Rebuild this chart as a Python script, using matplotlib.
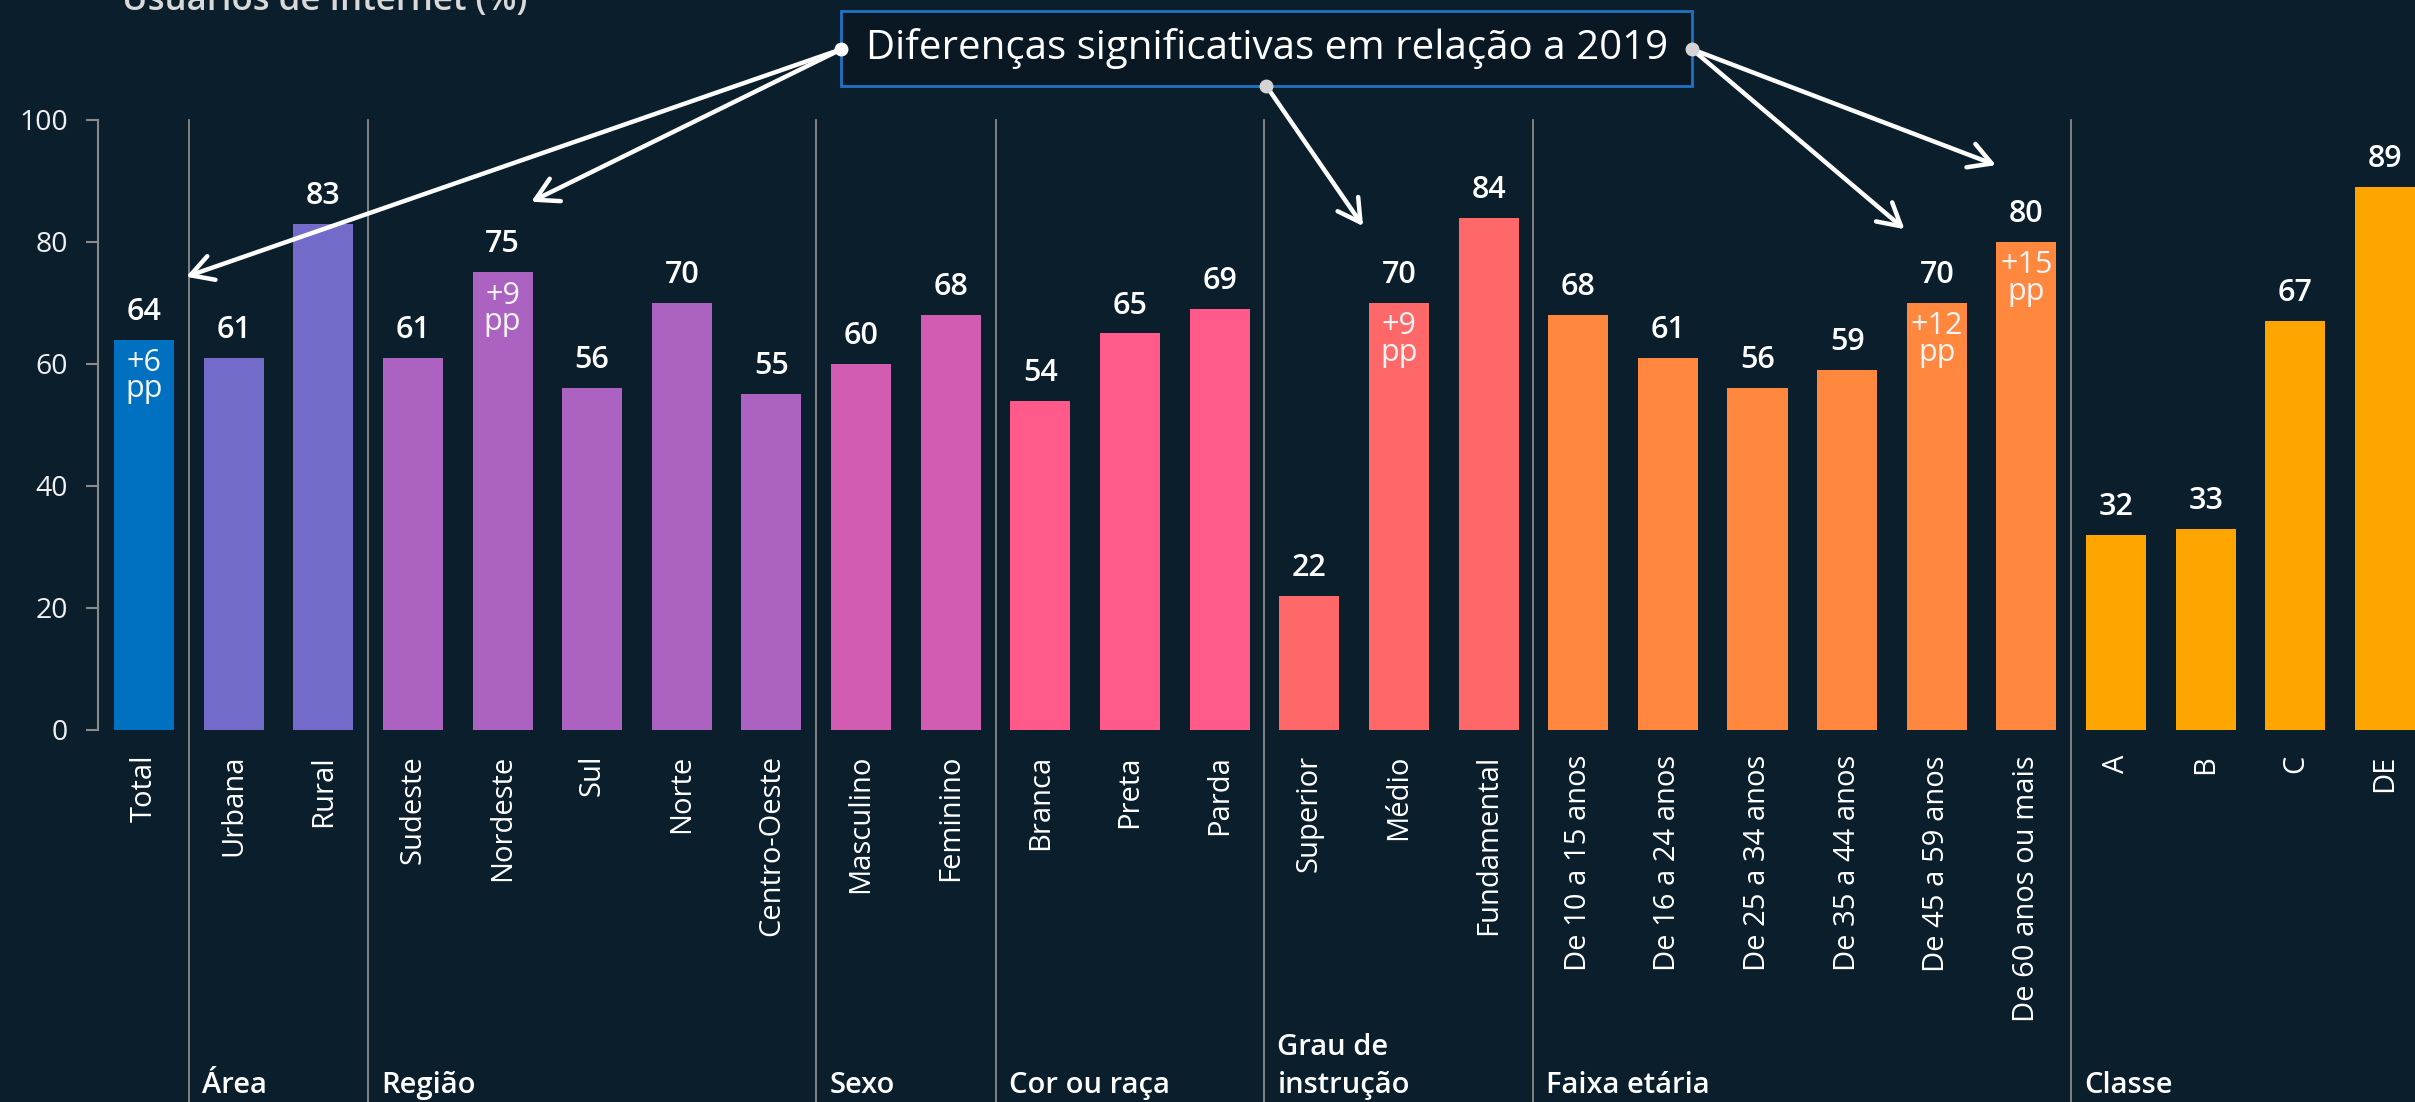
import matplotlib.pyplot as plt
import numpy as np
from matplotlib.patches import Rectangle
import matplotlib.transforms as mtransforms

plt.rcParams['font.family'] = ['Open Sans', 'DejaVu Sans']

# dados
categorias = ["Total", "Urbana", "Rural", "Sudeste", "Nordeste", "Sul", "Norte", "Centro-Oeste",
              "Masculino", "Feminino", "Branca", "Preta", "Parda",
              "Superior", "Médio", "Fundamental",
              "De 10 a 15 anos", "De 16 a 24 anos", "De 25 a 34 anos", "De 35 a 44 anos",
              "De 45 a 59 anos", "De 60 anos ou mais", "A", "B", "C", "DE"]
valores = [64, 61, 83, 61, 75, 56, 70, 55, 60, 68, 54, 65, 69, 22, 70, 84,
           68, 61, 56, 59, 70, 80, 32, 33, 67, 89]
grupos = ["", "Área", "Região", "Sexo", "Cor ou raça", "Grau de\ninstrução", "Faixa etária", "Classe"]
tamanhos = [1, 2, 5, 2, 3, 3, 6, 4]
cores_grupo = ["#0070c0", "#736bc9", "#ab62c0", "#d35cb3", "#ff5a8a", "#ff6868", "#ff883e", "#ffa500"]
diferencas = {"Total": "+6", "Nordeste": "+9", "Médio": "+9",
              "De 45 a 59 anos": "+12", "De 60 anos ou mais": "+15"}

# caixa de anotação e pontas das setas (coordenadas do eixo)
caixa = (7.78, 105.6, 17.27, 117.9)
pontos = {"esq": (7.78, 111.6), "baixo": (12.52, 105.6), "dir": (17.27, 111.6)}
setas = [("esq", 0.47, 74.3), ("esq", 4.32, 86.6), ("baixo", 13.6, 82.6),
         ("dir", 19.64, 82.1), ("dir", 20.66, 92.6)]

fundo = "#0b1e2c"
cinza = "#8a8a8a"

W, H = 2415, 1102
fig = plt.figure(figsize=(W / 100, H / 100), dpi=100, facecolor=fundo)
ax = fig.add_axes([98 / W, 1 - 730 / H, 1 - 98 / W, 610 / H])
ax.set_facecolor("none")

x = np.arange(len(categorias))
cores = []
for c, n in zip(cores_grupo, tamanhos):
    cores += [c] * n
ax.bar(x, valores, width=0.67, color=cores, zorder=2)

ax.set_xlim(-0.513, 25.335)
ax.set_ylim(0, 100)

for s in ["top", "right", "bottom"]:
    ax.spines[s].set_visible(False)
ax.spines["left"].set_color(cinza)
ax.spines["left"].set_linewidth(1.5)

ax.set_yticks([0, 20, 40, 60, 80, 100])
ax.tick_params(axis="y", colors=cinza, length=8.5, width=1.5, pad=13,
               labelsize=20.5, labelcolor="#f0f0f0")
ax.set_xticks(x, categorias, rotation=90)
ax.tick_params(axis="x", length=0, pad=18, labelsize=21, labelcolor="white")

# rótulos de valor e diferenças
for i, (cat, v) in enumerate(zip(categorias, valores)):
    ax.annotate(f"{v}", (i, v), xytext=(0, 14.4), textcoords="offset points",
                ha="center", va="baseline", fontsize=22, weight="semibold", color="white")
    if cat in diferencas:
        ax.annotate(f"{diferencas[cat]}\npp", (i, v), xytext=(0, -6), textcoords="offset points",
                    ha="center", va="top", multialignment="center", linespacing=0.85,
                    fontsize=22, color="#f4f4f4", zorder=3)

# separadores e nomes dos grupos
limites = np.cumsum(tamanhos)[:-1] - 0.5
for b in limites:
    ax.axvline(b, ymin=-0.62, ymax=1.0, clip_on=False, color=cinza, lw=1.3, zorder=1)

trans = mtransforms.blended_transform_factory(ax.transData, fig.transFigure)
inicio = np.concatenate([[0], np.cumsum(tamanhos)[:-1]]) - 0.5
for g, x0 in zip(grupos, inicio):
    if not g:
        continue
    linhas = g.split("\n")
    for k, linha in enumerate(reversed(linhas)):
        ax.text(x0 + 0.145, (H - 1093 + 38 * k) / H, linha, transform=trans,
                ha="left", va="baseline", fontsize=21, weight="semibold", color="white")

# título
fig.text(122 / W, 1 - 10 / H, "Usuários de Internet (%)", ha="left", va="baseline",
         fontsize=25, weight="semibold", color="#d9d9d9")

# caixa de anotação
x0, y0, x1, y1 = caixa
ax.add_patch(Rectangle((x0, y0), x1 - x0, y1 - y0, facecolor="#0a1824", edgecolor="#1f72c4",
                       lw=2, clip_on=False, zorder=4))
ax.text((x0 + x1) / 2, (y0 + y1) / 2, "Diferenças significativas em relação a 2019",
        ha="center", va="center", fontsize=29, color="white", zorder=5, clip_on=False)

for origem, tx, ty in setas:
    ax.annotate("", xy=(tx, ty), xytext=pontos[origem], annotation_clip=False,
                arrowprops=dict(arrowstyle="->,head_length=0.8,head_width=0.45", color="white",
                                lw=3.2, mutation_scale=20, shrinkA=0, shrinkB=0), zorder=6)

for nome, (px, py) in pontos.items():
    ax.plot([px], [py], "o", color="white" if nome == "esq" else "#d4d4d4",
            ms=9, clip_on=False, zorder=7)

fig.savefig("out.png", dpi=100, facecolor=fundo)
